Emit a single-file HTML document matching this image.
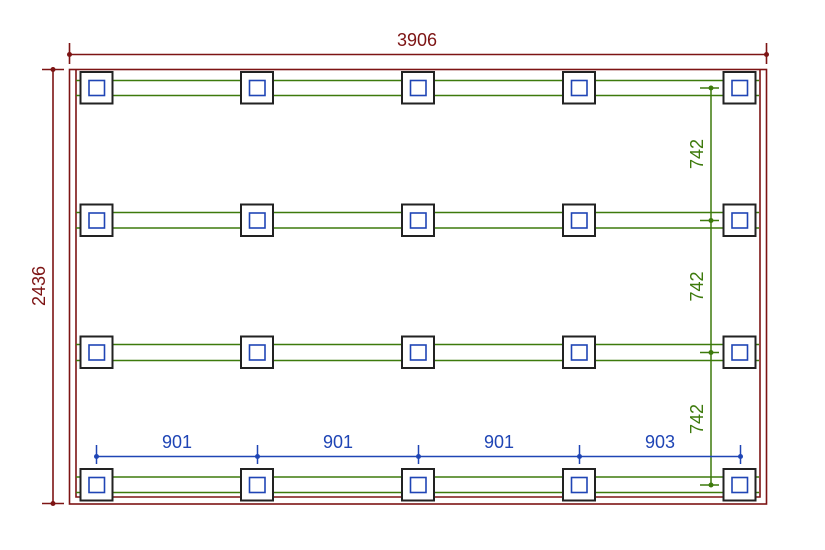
<!DOCTYPE html>
<html><head><meta charset="utf-8"><style>
html,body{margin:0;padding:0;background:#fff;}
svg{display:block;}
text{font-family:"Liberation Sans",sans-serif;font-size:18px;}
</style></head><body>
<svg width="825" height="550" viewBox="0 0 825 550" xmlns="http://www.w3.org/2000/svg">
<rect x="0" y="0" width="825" height="550" fill="#fff"/>
<!-- frame -->
<g fill="none" stroke="#7d1414" stroke-width="1.6">
<rect x="69.5" y="69.5" width="697" height="434.5"/>
<polyline points="76,69.5 76,497 760,497 760,69.5"/>
</g>
<!-- top dim -->
<g stroke="#7d1414" stroke-width="1.6" fill="#7d1414">
<line x1="69.5" y1="54.5" x2="766.5" y2="54.5"/>
<line x1="69.5" y1="43" x2="69.5" y2="64"/>
<line x1="766.5" y1="43" x2="766.5" y2="64"/>
<circle cx="69.5" cy="54.5" r="2.5" stroke="none"/>
<circle cx="766.5" cy="54.5" r="2.5" stroke="none"/>
<line x1="53" y1="69.5" x2="53" y2="503.5"/>
<line x1="42" y1="69.5" x2="64" y2="69.5"/>
<line x1="42" y1="503.5" x2="64" y2="503.5"/>
<circle cx="53" cy="69.5" r="2.5" stroke="none"/>
<circle cx="53" cy="503.5" r="2.5" stroke="none"/>
</g>
<text x="417" y="46" fill="#7d1414" text-anchor="middle">3906</text>
<text x="0" y="0" fill="#7d1414" text-anchor="middle" transform="translate(45,286) rotate(-90)">2436</text>
<!-- green beams -->
<g stroke="#3d7a0c" stroke-width="1.5">
<line x1="76" y1="80.5" x2="759" y2="80.5"/><line x1="76" y1="95.5" x2="759" y2="95.5"/>
<line x1="76" y1="212.5" x2="759" y2="212.5"/><line x1="76" y1="228" x2="759" y2="228"/>
<line x1="76" y1="344.5" x2="759" y2="344.5"/><line x1="76" y1="360.5" x2="759" y2="360.5"/>
<line x1="76" y1="477" x2="759" y2="477"/><line x1="76" y1="492.5" x2="759" y2="492.5"/>
</g>
<!-- pads -->
<defs>
<g id="pad">
<rect x="-16" y="-16" width="32" height="31.5" fill="#fff" stroke="#222" stroke-width="2"/>
<rect x="-7.5" y="-7.5" width="15.5" height="15" fill="#fff" stroke="#1f45b5" stroke-width="1.6"/>
</g>
</defs>
<g>
<use href="#pad" x="96.5" y="88"/><use href="#pad" x="257" y="88"/><use href="#pad" x="418" y="88"/><use href="#pad" x="579" y="88"/><use href="#pad" x="739.5" y="88"/>
<use href="#pad" x="96.5" y="220.5"/><use href="#pad" x="257" y="220.5"/><use href="#pad" x="418" y="220.5"/><use href="#pad" x="579" y="220.5"/><use href="#pad" x="739.5" y="220.5"/>
<use href="#pad" x="96.5" y="352.5"/><use href="#pad" x="257" y="352.5"/><use href="#pad" x="418" y="352.5"/><use href="#pad" x="579" y="352.5"/><use href="#pad" x="739.5" y="352.5"/>
<use href="#pad" x="96.5" y="485"/><use href="#pad" x="257" y="485"/><use href="#pad" x="418" y="485"/><use href="#pad" x="579" y="485"/><use href="#pad" x="739.5" y="485"/>
</g>
<!-- green dim -->
<g stroke="#3d7a0c" stroke-width="1.5" fill="#3d7a0c">
<line x1="711" y1="88" x2="711" y2="485"/>
<line x1="700" y1="88" x2="719" y2="88"/>
<line x1="700" y1="220.5" x2="719" y2="220.5"/>
<line x1="700" y1="352.5" x2="719" y2="352.5"/>
<line x1="700" y1="485" x2="719" y2="485"/>
<circle cx="711" cy="88" r="2.5" stroke="none"/>
<circle cx="711" cy="220.5" r="2.5" stroke="none"/>
<circle cx="711" cy="352.5" r="2.5" stroke="none"/>
<circle cx="711" cy="485" r="2.5" stroke="none"/>
</g>
<g fill="#3d7a0c">
<text text-anchor="middle" transform="translate(703,154) rotate(-90)">742</text>
<text text-anchor="middle" transform="translate(703,286.5) rotate(-90)">742</text>
<text text-anchor="middle" transform="translate(703,419) rotate(-90)">742</text>
</g>
<!-- blue dim -->
<g stroke="#1f45b5" stroke-width="1.5" fill="#1f45b5">
<line x1="96.5" y1="456.5" x2="740.5" y2="456.5"/>
<line x1="96.5" y1="445" x2="96.5" y2="464"/>
<line x1="257.5" y1="445" x2="257.5" y2="464"/>
<line x1="418.5" y1="445" x2="418.5" y2="464"/>
<line x1="579.5" y1="445" x2="579.5" y2="464"/>
<line x1="740.5" y1="445" x2="740.5" y2="464"/>
<circle cx="96.5" cy="456.5" r="2.5" stroke="none"/>
<circle cx="257.5" cy="456.5" r="2.5" stroke="none"/>
<circle cx="418.5" cy="456.5" r="2.5" stroke="none"/>
<circle cx="579.5" cy="456.5" r="2.5" stroke="none"/>
<circle cx="740.5" cy="456.5" r="2.5" stroke="none"/>
</g>
<g fill="#1f45b5" text-anchor="middle">
<text x="177" y="448">901</text>
<text x="338" y="448">901</text>
<text x="499" y="448">901</text>
<text x="660" y="448">903</text>
</g>
</svg>
</body></html>
